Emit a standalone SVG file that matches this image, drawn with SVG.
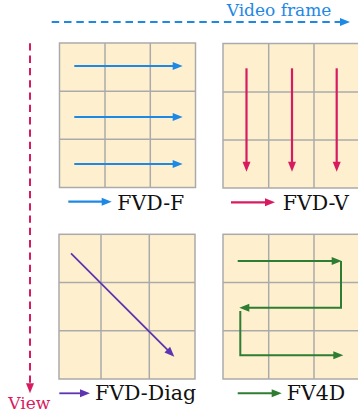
<svg xmlns="http://www.w3.org/2000/svg" width="358" height="415" viewBox="0 0 358 415">
<style>
.grid{fill:#fef0cf;stroke:#aaaaaa;stroke-width:1.5}
.gl{stroke:#aaaaaa;stroke-width:1.5;fill:none}
.lbl{font-family:"DejaVu Serif",serif;font-size:20.5px;fill:#111}
.ax{font-family:"DejaVu Serif",serif;font-size:17px}
.b{stroke:#1e88e5;stroke-width:2.2;fill:none;marker-end:url(#hb)}
.r{stroke:#d81b60;stroke-width:2.2;fill:none;marker-end:url(#hr)}
.p{stroke:#5e35b1;stroke-width:1.8;fill:none;marker-end:url(#hp)}
.g{stroke:#2e7d32;stroke-width:2;fill:none}
.gm{marker-end:url(#hg)}
</style>
<defs>
<marker id="hb" markerUnits="userSpaceOnUse" markerWidth="10" markerHeight="8" refX="5" refY="4" orient="auto" overflow="visible"><path d="M0,0 L10,4 L0,8 z" fill="#1e88e5"/></marker>
<marker id="hr" markerUnits="userSpaceOnUse" markerWidth="10" markerHeight="8" refX="5" refY="4" orient="auto" overflow="visible"><path d="M0,0 L10,4 L0,8 z" fill="#d81b60"/></marker>
<marker id="hp" markerUnits="userSpaceOnUse" markerWidth="10" markerHeight="8" refX="5" refY="4" orient="auto" overflow="visible"><path d="M0,0 L10,4 L0,8 z" fill="#5e35b1"/></marker>
<marker id="hg" markerUnits="userSpaceOnUse" markerWidth="10" markerHeight="8" refX="5" refY="4" orient="auto" overflow="visible"><path d="M0,0 L10,4 L0,8 z" fill="#2e7d32"/></marker>
</defs>
<rect width="358" height="415" fill="#ffffff"/>

<g id="connectors">
  <line x1="51.7" y1="22" x2="345" y2="22" stroke="#1e88e5" stroke-width="2" stroke-dasharray="7.5,4.8" marker-end="url(#hb)"/>
  <line x1="30" y1="43.3" x2="30" y2="388.3" stroke="#d81b60" stroke-width="2" stroke-dasharray="7.3,5" marker-end="url(#hr)"/>
  <text class="ax" x="226.7" y="16" fill="#1e88e5">Video frame</text>
  <text class="ax" x="8.3" y="409" fill="#d81b60">View</text>
</g>

<g id="fvd-f">
  <rect class="grid" x="59.5" y="43" width="136" height="144.5"/>
  <path class="gl" d="M105,43 V187.5 M150.3,43 V187.5 M59.5,91.2 H195.5 M59.5,139.3 H195.5"/>
  <line class="b" x1="74.3" y1="66" x2="177.7" y2="66"/>
  <line class="b" x1="74.3" y1="117" x2="177.7" y2="117"/>
  <line class="b" x1="74.3" y1="164" x2="177.7" y2="164"/>
  <line class="b" x1="68.3" y1="201.7" x2="106.7" y2="201.7"/>
  <text class="lbl" x="117.3" y="210">FVD-F</text>
</g>

<g id="fvd-v">
  <rect class="grid" x="223" y="43.5" width="137" height="144.5"/>
  <path class="gl" d="M268.7,43.5 V188 M314,43.5 V188 M223,92 H360 M223,140 H360"/>
  <line class="r" x1="246.5" y1="68.3" x2="246.5" y2="166.7"/>
  <line class="r" x1="292" y1="68.3" x2="292" y2="166.7"/>
  <line class="r" x1="336.7" y1="68.3" x2="336.7" y2="166.7"/>
  <line class="r" x1="231" y1="202.3" x2="270" y2="202.3"/>
  <text class="lbl" x="282.7" y="210">FVD-V</text>
</g>

<g id="fvd-diag">
  <rect class="grid" x="59" y="234.3" width="136" height="144.7"/>
  <path class="gl" d="M101,234.3 V379 M149.3,234.3 V379 M59,282.5 H195 M59,330.7 H195"/>
  <line class="p" x1="71" y1="253.3" x2="170.8" y2="353.2"/>
  <line class="p" x1="59.3" y1="393.3" x2="85" y2="393.3"/>
  <text class="lbl" x="95" y="400">FVD-Diag</text>
</g>

<g id="fv4d">
  <rect class="grid" x="223" y="234.3" width="137" height="144.7"/>
  <path class="gl" d="M268.7,234.3 V379 M314,234.3 V379 M223,282.5 H360 M223,330.7 H360"/>
  <line class="g gm" x1="237.7" y1="261" x2="336.7" y2="261"/>
  <path class="g gm" d="M341,261 V307.7 H244.3"/>
  <path class="g gm" d="M240.3,311 V355.3 H338.3"/>
  <line class="g gm" x1="237.7" y1="393.3" x2="276.7" y2="393.3"/>
  <text class="lbl" x="286.7" y="400">FV4D</text>
</g>
</svg>
